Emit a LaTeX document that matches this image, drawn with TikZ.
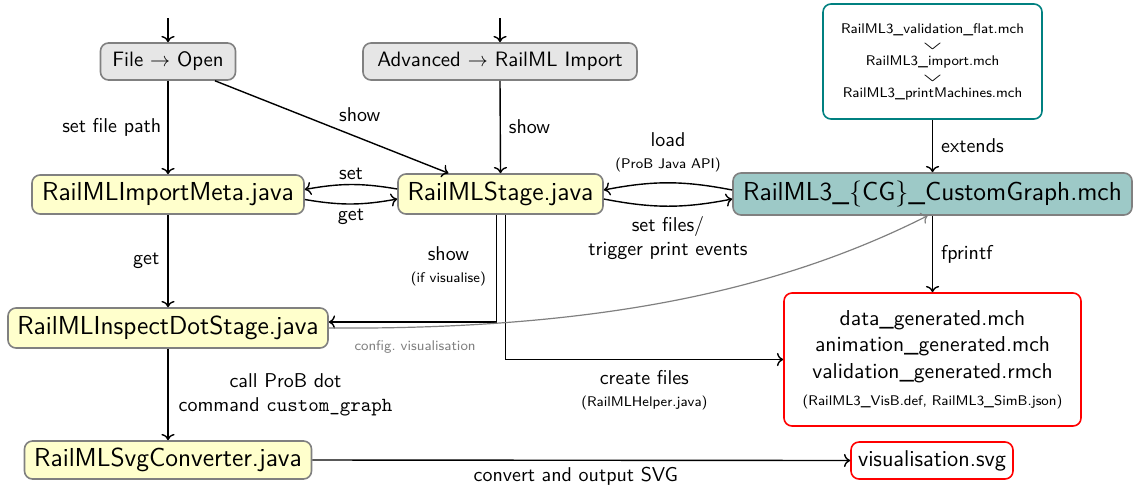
\documentclass[tikz,border=0pt]{standalone}
\usetikzlibrary{calc,arrows.meta}
\renewcommand{\familydefault}{\sfdefault}
\definecolor{boxgray}{RGB}{128,128,128}
\definecolor{menufill}{RGB}{230,230,230}
\definecolor{javafill}{RGB}{255,255,204}
\definecolor{cgfill}{RGB}{157,201,199}
\definecolor{tealborder}{RGB}{0,128,128}
\definecolor{labgray}{RGB}{128,128,128}
\newcommand{\chev}{\scalebox{1.9}[0.75]{$\vee$}}
\begin{document}
\begin{tikzpicture}[x=0.5pt,y=0.5pt,
  box/.style={draw=boxgray, line width=0.8pt, rounded corners=4pt, inner sep=0pt, align=center},
  menu/.style={box, fill=menufill, font=\fontsize{10.4}{12}\selectfont},
  javabox/.style={box, fill=javafill, font=\fontsize{13}{15}\selectfont},
  arr/.style={->, line width=0.7pt},
  lab/.style={font=\normalsize, align=center, inner sep=1pt},
  sublab/.style={font=\scriptsize}
]
\useasboundingbox (0,0) rectangle (1133,-488);

% nodes
\node[menu, minimum width=67.5pt, minimum height=18.5pt] (fo) at (168,-61.5) {File $\rightarrow$ Open};
\node[menu, minimum width=137pt, minimum height=18.5pt] (adv) at (500,-61.5) {Advanced $\rightarrow$ RailML Import};
\node[javabox, minimum width=136pt, minimum height=19.5pt] (meta) at (168,-194.5) {RailMLImportMeta.java};
\node[javabox, minimum width=102.5pt, minimum height=20pt] (st) at (500.5,-194) {RailMLStage.java};
\node[box, fill=cgfill, font=\fontsize{13}{15}\selectfont, minimum width=199.5pt, minimum height=21pt] (cg) at (932.5,-194) {RailML3\_\{CG\}\_CustomGraph.mch};
\node[box, draw=tealborder, fill=white, font=\scriptsize, minimum width=109.5pt, minimum height=57.5pt] (tr) at (932.5,-61.5)
  {RailML3\_validation\_flat.mch\\[0pt]\chev\\[0pt]RailML3\_import.mch\\[0pt]\chev\\[0pt]RailML3\_printMachines.mch};
\node[javabox, minimum width=160pt, minimum height=20pt] (ids) at (168,-328) {RailMLInspectDotStage.java};
\node[javabox, minimum width=143.5pt, minimum height=19pt] (svg) at (168,-460) {RailMLSvgConverter.java};
\node[box, draw=red, fill=white, font=\fontsize{10.8}{13.3}\selectfont, minimum width=148.5pt, minimum height=66.5pt] (red) at (932.5,-359.5)
  {data\_generated.mch\\animation\_generated.mch\\validation\_generated.rmch\\{\scriptsize (RailML3\_VisB.def, RailML3\_SimB.json)}};
\node[box, draw=red, fill=white, font=\fontsize{11.4}{13}\selectfont, minimum width=81pt, minimum height=18.5pt] (vis) at (932,-460.5) {visualisation.svg};

% entry points
\coordinate (in1) at (168,-18);
\coordinate (in2) at (500,-18);
\draw[arr] (in1) -- (fo.north);
\draw[arr] (in2) -- (adv.north);

% edges
\draw[arr] (fo.south) -- node[lab, left=2pt, pos=0.5] {set file path} (meta.north);
\draw[arr] ($(fo.south)+(47,0)$) -- node[lab, pos=0.62, above=7pt] {show} ($(st.north)+(-52,0)$);
\draw[arr] (adv.south) -- node[lab, right=3pt, pos=0.5] {show} (st.north);

\draw[arr] ($(st.west)+(0,5)$) to[bend right=10] node[lab, above=1pt] {set} ($(meta.east)+(0,5)$);
\draw[arr] ($(meta.east)+(0,-5)$) to[bend right=10] node[lab, below=1pt] {get} ($(st.west)+(0,-5)$);

\draw[arr] ($(cg.west)+(0,4)$) to[bend right=11] node[lab, above=4pt] {load\\[-1pt]{\scriptsize (ProB Java API)}} ($(st.east)+(0,4)$);
\draw[arr] ($(st.east)+(0,-5)$) to[bend right=11] node[lab, below=4pt] {set files/\\trigger print events} ($(cg.west)+(0,-5)$);

\draw[arr] (tr.south) -- node[lab, right=3pt] {extends} (cg.north);
\draw[arr] (cg.south) -- node[lab, right=3pt] {fprintf} (red.north);

\draw[arr] (meta.south) -- node[lab, left=3pt] {get} (ids.north);
\draw[arr] ($(st.south)+(-4,0)$) |- node[lab, pos=0.24, left=4pt] {show\\[-1pt]{\scriptsize (if visualise)}} ($(ids.east)+(0,6)$);
\draw[arr] ($(st.south)+(5,0)$) |- node[lab, pos=0.75, below=4pt] {create files\\[-1pt]{\scriptsize (RailMLHelper.java)}} (red.west);

\draw[->, line width=0.6pt, labgray] (ids.east) .. controls (600,-330) and (780,-290) .. node[pos=0.11, below=3pt, font=\scriptsize, labgray] {config.\ visualisation} ($(cg.south)+(-5,0)$);

\draw[arr] (ids.south) -- node[lab, right=4pt] {call ProB dot\\command \texttt{custom\_graph}} (svg.north);
\draw[arr] (svg.east) -- node[lab, pos=0.49, below=2pt] {convert and output SVG} (vis.west);

\end{tikzpicture}
\end{document}
